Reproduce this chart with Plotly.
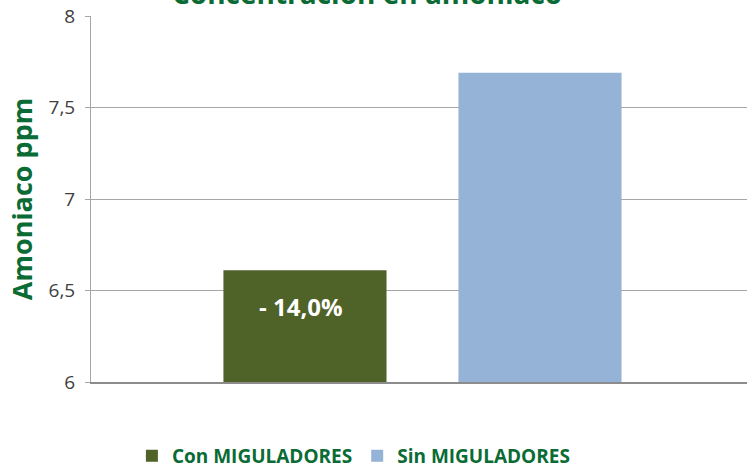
import plotly.graph_objects as go

categories = [""]
series_names = ["Con MIGULADORES", "Sin MIGULADORES"]
con_values = [6.61]
sin_values = [7.69]
y_ticks = [6, 6.5, 7, 7.5, 8]
bar_label = "- 14,0%"
title_text = "Concentración en amoniaco"
y_title = "Amoniaco ppm"

GREEN_TXT = "#0a6b35"
FONT = "Open Sans"

fig = go.Figure()
fig.add_trace(go.Bar(x=categories, y=con_values, name=series_names[0],
                     marker=dict(color="#4f6228", line=dict(width=0))))
fig.add_trace(go.Bar(x=categories, y=sin_values, name=series_names[1],
                     marker=dict(color="#95b3d7", line=dict(width=0))))

W, H = 747, 469
ml, mr, mt, mb = 91, 0, 16, 87
plot_w = W - ml - mr
xr = [-0.5, 0.4895]
bargap = 0.291
bargroupgap = 0.306
unit_px = plot_w / (xr[1] - xr[0])
slot_px = unit_px * (1 - bargap) / 2

fig.add_annotation(x=categories[0], y=con_values[0], xref="x", yref="y",
                   xshift=-slot_px / 2, yanchor="top", yshift=-18,
                   text=bar_label, showarrow=False,
                   font=dict(family=FONT, size=24, color="white", weight="bold"))

fig.add_annotation(x=0.42, y=1.0, xref="paper", yref="paper", yanchor="bottom",
                   yshift=2, text=title_text, showarrow=False,
                   font=dict(family=FONT, size=28, color=GREEN_TXT, weight="bold"))

fig.update_layout(
    width=W, height=H,
    margin=dict(l=ml, r=mr, t=mt, b=mb, autoexpand=False),
    paper_bgcolor="white", plot_bgcolor="white",
    barmode="group", bargap=bargap, bargroupgap=bargroupgap,
    separators=",.",
    font=dict(family=FONT, color="#404040"),
    showlegend=True,
    legend=dict(orientation="h", x=0.40, xanchor="center", y=-0.15, yanchor="top",
                font=dict(family=FONT, size=19, color=GREEN_TXT, weight="bold"),
                itemwidth=30, traceorder="normal"),
    xaxis=dict(range=xr, showticklabels=False, showline=True, linecolor="#8c8c8c",
               linewidth=1.5, ticks="", showgrid=False, zeroline=False, fixedrange=True),
    yaxis=dict(range=[6, 8], tickvals=y_ticks, tickformat="~g",
               tickfont=dict(family=FONT, size=19, color="#404040"),
               showgrid=True, gridcolor="#a6a6a6", gridwidth=1,
               showline=True, linecolor="#a6a6a6", linewidth=1,
               ticks="outside", ticklen=5, tickcolor="#a6a6a6",
               ticklabelstandoff=6, zeroline=False,
               title=dict(text=y_title, standoff=8,
                          font=dict(family=FONT, size=27, color=GREEN_TXT, weight="bold"))),
)

fig.write_html("out.html", config={"displayModeBar": False},
               post_script="document.body.style.margin='0';document.body.style.overflow='hidden';")
